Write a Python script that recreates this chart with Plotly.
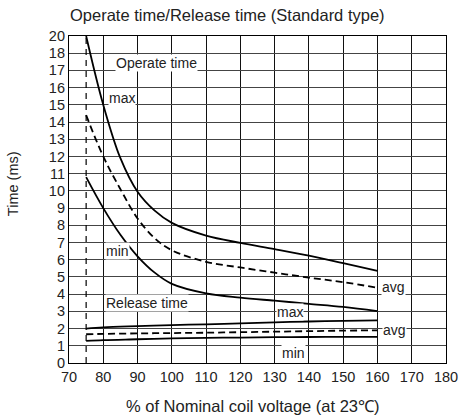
import plotly.graph_objects as go

# ---- data (y in grid units; top grid line is labelled "20") ----
op_x = [75, 80, 85, 90, 95, 100, 110, 120, 130, 140, 150, 160]
op_max = [19.0, 15.0, 11.9, 9.95, 8.85, 8.14, 7.4, 6.98, 6.62, 6.24, 5.8, 5.35]
op_avg_x = [75, 80, 85, 90, 95, 100, 110, 120, 130, 140, 150, 160]
op_avg = [14.4, 12.0, 10.1, 8.4, 7.25, 6.55, 5.88, 5.55, 5.25, 4.96, 4.7, 4.37]
op_min = [10.8, 9.0, 7.45, 6.2, 5.25, 4.6, 4.05, 3.8, 3.62, 3.44, 3.26, 3.02]

rel_x = [75, 80, 90, 100, 110, 120, 130, 140, 150, 160]
rel_max = [2.0, 2.07, 2.14, 2.2, 2.25, 2.3, 2.36, 2.41, 2.45, 2.48]
rel_avg = [1.67, 1.69, 1.72, 1.74, 1.76, 1.79, 1.82, 1.85, 1.88, 1.9]
rel_min = [1.28, 1.33, 1.38, 1.43, 1.46, 1.48, 1.5, 1.51, 1.52, 1.52]

vline_x = [75, 75]
vline_y = [0, 19]

x_ticks = list(range(70, 181, 10))
y_tickvals = list(range(0, 20))
y_ticktext = [str(v) for v in range(0, 19)] + ["20"]

labels = [
    ("Operate time", 95.4, 17.45),
    ("max", 85.5, 15.4),
    ("min", 84.2, 6.5),
    ("Release time", 92.9, 3.5),
    ("avg", 164.6, 4.42),
    ("max", 134.4, 2.97),
    ("avg", 165.0, 1.92),
    ("min", 135.5, 0.56),
]

FONT = "Liberation Sans, Arial, sans-serif"
TXT = "#222222"

fig = go.Figure()

solid = dict(color="black", width=1.8, shape="spline")
dashed = dict(color="black", width=1.8, shape="spline", dash="7px,4px")

fig.add_trace(go.Scatter(x=vline_x, y=vline_y, mode="lines",
                         line=dict(color="black", width=1.2, dash="6px,5px")))
fig.add_trace(go.Scatter(x=op_x, y=op_max, mode="lines", line=solid))
fig.add_trace(go.Scatter(x=op_avg_x, y=op_avg, mode="lines", line=dashed))
fig.add_trace(go.Scatter(x=op_x, y=op_min, mode="lines", line=solid))
fig.add_trace(go.Scatter(x=rel_x, y=rel_max, mode="lines", line=solid))
fig.add_trace(go.Scatter(x=rel_x, y=rel_avg, mode="lines", line=dashed))
fig.add_trace(go.Scatter(x=rel_x, y=rel_min, mode="lines", line=solid))

for text, x, y in labels:
    fig.add_annotation(x=x, y=y, text=text, showarrow=False,
                       font=dict(family=FONT, size=14, color=TXT),
                       bgcolor="white", borderpad=0)

# titles
fig.add_annotation(xref="paper", yref="paper", x=-0.003, y=1 + 21 / 327,
                   xanchor="left", yanchor="middle", showarrow=False,
                   text="Operate time/Release time (Standard type)",
                   font=dict(family=FONT, size=16.5, color=TXT))
fig.add_annotation(xref="paper", yref="paper", x=0.487, y=-43 / 327,
                   xanchor="center", yanchor="middle", showarrow=False,
                   text="% of Nominal coil voltage (at 23℃)",
                   font=dict(family=FONT, size=16.5, color=TXT))
fig.add_annotation(xref="paper", yref="paper", x=-56 / 377, y=0.547,
                   xanchor="center", yanchor="middle", showarrow=False,
                   textangle=-90, text="Time (ms)",
                   font=dict(family=FONT, size=14.5, color=TXT))

fig.update_layout(
    width=460, height=419,
    margin=dict(l=69, r=14, t=36, b=56),
    paper_bgcolor="white", plot_bgcolor="white",
    showlegend=False,
    font=dict(family=FONT, size=14, color=TXT),
)
fig.update_xaxes(range=[70, 180], tickvals=x_ticks, showgrid=True,
                 gridcolor="#111111", gridwidth=1, zeroline=False,
                 showline=True, linecolor="black", linewidth=1.2, mirror=True,
                 ticks="", automargin=False, tickfont=dict(size=14.5, color=TXT))
fig.update_yaxes(range=[0, 19], tickvals=y_tickvals, ticktext=y_ticktext,
                 showgrid=True, gridcolor="#444444", gridwidth=1, zeroline=False,
                 showline=True, linecolor="black", linewidth=1.2, mirror=True,
                 ticks="", automargin=False, tickfont=dict(size=14.5, color=TXT))

fig.write_html(
    "out.html",
    config=dict(displayModeBar=False),
    post_script="document.body.style.margin='0';document.body.style.overflow='hidden';",
)
